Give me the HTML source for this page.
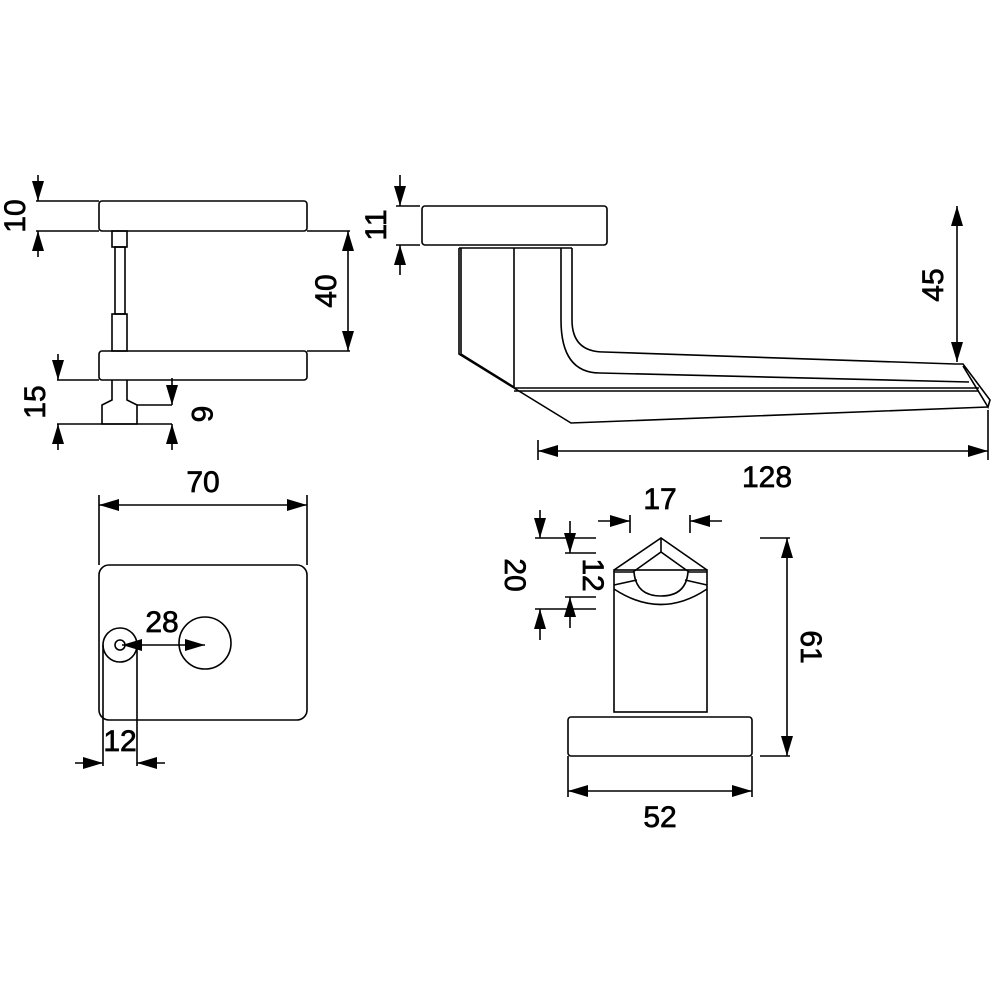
<!DOCTYPE html>
<html><head><meta charset="utf-8"><style>
html,body{margin:0;padding:0;background:#fff;}
svg{display:block;}
text{font-family:"Liberation Sans",Arial,sans-serif;font-size:30px;fill:#000;stroke:#000;stroke-width:0.7;}
</style></head><body>
<svg width="1000" height="1000" viewBox="0 0 1000 1000" xmlns="http://www.w3.org/2000/svg">
<defs>
<marker id="a" viewBox="0 0 20 12" refX="20" refY="6" markerWidth="20" markerHeight="12" markerUnits="userSpaceOnUse" orient="auto"><path d="M0,0 L20,6 L0,12 z" fill="#000"/></marker>
</defs>
<g fill="none" stroke="#000" stroke-width="1.6">
<!-- top-left view -->
<rect x="99" y="201" width="208" height="30" rx="3"/>
<line x1="36" y1="201" x2="99" y2="201"/>
<line x1="36" y1="231" x2="99" y2="231"/>
<line x1="38" y1="175" x2="38" y2="201" marker-end="url(#a)"/>
<line x1="38" y1="257" x2="38" y2="231" marker-end="url(#a)"/>
<rect x="112" y="231" width="15" height="16"/>
<rect x="115" y="247" width="10" height="67"/>
<rect x="112" y="314" width="15" height="37"/>
<rect x="99" y="351" width="208" height="29" rx="3"/>
<line x1="307" y1="231" x2="350" y2="231"/>
<line x1="307" y1="351" x2="350" y2="351"/>
<line x1="348" y1="291" x2="348" y2="231" marker-end="url(#a)"/>
<line x1="348" y1="291" x2="348" y2="351" marker-end="url(#a)"/>
<path d="M112,380 L112,400 L102,405 L102,424 L137,424 L137,405 L127,400 L127,380"/>
<line x1="137" y1="405" x2="172" y2="405"/>
<line x1="57" y1="380" x2="99" y2="380"/>
<line x1="57" y1="424" x2="172" y2="424"/>
<line x1="58" y1="354" x2="58" y2="380" marker-end="url(#a)"/>
<line x1="58" y1="450" x2="58" y2="424" marker-end="url(#a)"/>
<line x1="172" y1="378" x2="172" y2="405" marker-end="url(#a)"/>
<line x1="172" y1="450" x2="172" y2="424" marker-end="url(#a)"/>
<!-- top-right view -->
<rect x="422" y="206" width="185" height="39" rx="3"/>
<line x1="396" y1="206" x2="420" y2="206"/>
<line x1="396" y1="245" x2="420" y2="245"/>
<line x1="400" y1="175" x2="400" y2="206" marker-end="url(#a)"/>
<line x1="400" y1="275" x2="400" y2="245" marker-end="url(#a)"/>
<path d="M459,248 L459,354 L514,388 L571,423 L988,407"/>
<path d="M461,248 L461,354 L514,387"/>
<line x1="459" y1="248" x2="572" y2="248"/>
<line x1="514" y1="248" x2="514" y2="388"/>
<path d="M561,248 L561,320 Q561,373 600,373 L969,382"/>
<path d="M572,248 L572,320 Q572,352 604,352 L955,364"/>
<line x1="514" y1="388" x2="979" y2="388"/>
<line x1="514" y1="391" x2="979" y2="391"/>
<path d="M955,364 L963,364 L990,400 L988,407 L963,366"/>
<line x1="957" y1="285" x2="957" y2="206" marker-end="url(#a)"/>
<line x1="957" y1="285" x2="957" y2="362" marker-end="url(#a)"/>
<line x1="538" y1="440" x2="538" y2="460"/>
<line x1="988" y1="410" x2="988" y2="460"/>
<line x1="760" y1="451" x2="538" y2="451" marker-end="url(#a)"/>
<line x1="760" y1="451" x2="988" y2="451" marker-end="url(#a)"/>
<!-- bottom-left plate -->
<rect x="99" y="565" width="208" height="155" rx="10"/>
<line x1="99" y1="495" x2="99" y2="565"/>
<line x1="307" y1="495" x2="307" y2="565"/>
<line x1="203" y1="505" x2="99" y2="505" marker-end="url(#a)"/>
<line x1="203" y1="505" x2="307" y2="505" marker-end="url(#a)"/>
<circle cx="120" cy="645" r="17"/>
<circle cx="120" cy="645" r="5"/>
<circle cx="205" cy="643" r="26"/>
<line x1="160" y1="645" x2="122" y2="645" marker-end="url(#a)"/>
<line x1="160" y1="645" x2="205" y2="645" marker-end="url(#a)"/>
<line x1="103" y1="645" x2="103" y2="766"/>
<line x1="137" y1="645" x2="137" y2="766"/>
<line x1="75" y1="763" x2="103" y2="763" marker-end="url(#a)"/>
<line x1="165" y1="763" x2="137" y2="763" marker-end="url(#a)"/>
<!-- bottom-right view -->
<rect x="568" y="717" width="184" height="39" rx="3"/>
<rect x="614" y="570" width="93" height="142"/>
<path d="M614,570 L661,538 L707,570"/>
<path d="M661,538 L661,552"/>
<path d="M614,572 L633,572 L661,552 L689,572 L707,572"/>
<path d="M634,572 Q636,596 661,596 Q686,596 688,572"/>
<path d="M614,589 Q661,620 707,589"/>
<path d="M614,585 L637,580 M707,585 L685,580"/>
<line x1="630" y1="515" x2="630" y2="533"/>
<line x1="690" y1="515" x2="690" y2="533"/>
<line x1="598" y1="521" x2="630" y2="521" marker-end="url(#a)"/>
<line x1="722" y1="521" x2="690" y2="521" marker-end="url(#a)"/>
<line x1="535" y1="538" x2="596" y2="538"/>
<line x1="535" y1="609" x2="596" y2="609"/>
<line x1="565" y1="553" x2="596" y2="553"/>
<line x1="565" y1="597" x2="596" y2="597"/>
<line x1="540" y1="510" x2="540" y2="538" marker-end="url(#a)"/>
<line x1="540" y1="640" x2="540" y2="609" marker-end="url(#a)"/>
<line x1="570" y1="521" x2="570" y2="553" marker-end="url(#a)"/>
<line x1="570" y1="628" x2="570" y2="597" marker-end="url(#a)"/>
<line x1="760" y1="538" x2="790" y2="538"/>
<line x1="760" y1="756" x2="790" y2="756"/>
<line x1="787" y1="647" x2="787" y2="538" marker-end="url(#a)"/>
<line x1="787" y1="647" x2="787" y2="756" marker-end="url(#a)"/>
<line x1="568" y1="756" x2="568" y2="797"/>
<line x1="752" y1="756" x2="752" y2="797"/>
<line x1="660" y1="791" x2="568" y2="791" marker-end="url(#a)"/>
<line x1="660" y1="791" x2="752" y2="791" marker-end="url(#a)"/>
</g>
<g>
<text transform="translate(25,216) rotate(-90)" text-anchor="middle" font-size="23">10</text>
<text transform="translate(336,291) rotate(-90)" text-anchor="middle">40</text>
<text transform="translate(45,402) rotate(-90)" text-anchor="middle" font-size="23">15</text>
<text transform="translate(192,414) rotate(90)" text-anchor="middle" font-size="23">6</text>
<text transform="translate(386,225) rotate(-90)" text-anchor="middle">11</text>
<text transform="translate(943,285) rotate(-90)" text-anchor="middle">45</text>
<text x="767" y="487" text-anchor="middle">128</text>
<text x="203" y="492" text-anchor="middle" font-size="23">70</text>
<text x="162" y="632" text-anchor="middle" font-size="23">28</text>
<text x="120" y="751" text-anchor="middle" font-size="23">12</text>
<text x="660" y="509" text-anchor="middle">17</text>
<text transform="translate(505,575) rotate(90)" text-anchor="middle">20</text>
<text transform="translate(583,575) rotate(90)" text-anchor="middle">12</text>
<text transform="translate(801,647) rotate(90)" text-anchor="middle">61</text>
<text x="660" y="827" text-anchor="middle">52</text>
</g>
</svg>
</body></html>
